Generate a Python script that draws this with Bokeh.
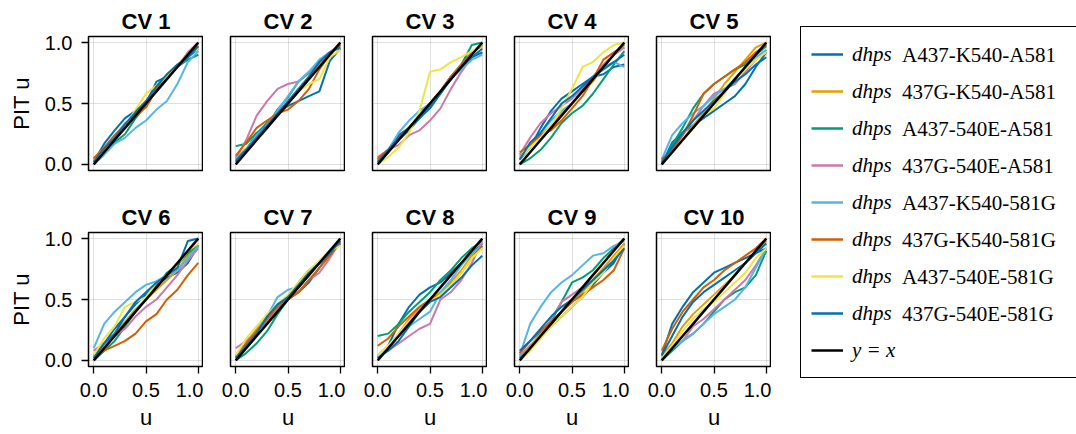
from bokeh.plotting import figure
from bokeh.models import Range1d, LinearAxis, Grid, FixedTicker, Legend, LegendItem
from bokeh.layouts import row, column
from bokeh.embed import file_html
from bokeh.resources import INLINE

# ---------------- data ----------------
u_grid = [0.0, 0.1, 0.2, 0.3, 0.4, 0.5, 0.6, 0.7, 0.8, 0.9, 1.0]

series_labels = [
    "A437-K540-A581", "437G-K540-A581", "A437-540E-A581", "437G-540E-A581",
    "A437-K540-581G", "437G-K540-581G", "A437-540E-581G", "437G-540E-581G",
]
series_colors = ["#0072B2", "#E69F00", "#009E73", "#CC79A7",
                 "#56B4E9", "#D55E00", "#F0E442", "#0072B2"]

panel_titles = ["CV 1", "CV 2", "CV 3", "CV 4", "CV 5",
                "CV 6", "CV 7", "CV 8", "CV 9", "CV 10"]

# PIT values per CV fold; one list per series (order of series_labels)
cv1 = [
    [0.02, 0.17, 0.28, 0.38, 0.44, 0.50, 0.68, 0.72, 0.80, 0.88, 0.95],
    [0.05, 0.12, 0.22, 0.32, 0.42, 0.47, 0.62, 0.72, 0.80, 0.90, 0.97],
    [0.03, 0.12, 0.18, 0.25, 0.38, 0.48, 0.63, 0.73, 0.80, 0.86, 0.90],
    [0.04, 0.12, 0.22, 0.34, 0.40, 0.52, 0.62, 0.70, 0.80, 0.92, 1.00],
    [0.00, 0.08, 0.17, 0.22, 0.30, 0.36, 0.45, 0.52, 0.66, 0.84, 0.93],
    [0.05, 0.14, 0.24, 0.33, 0.40, 0.47, 0.62, 0.72, 0.81, 0.90, 0.97],
    [0.03, 0.10, 0.22, 0.32, 0.45, 0.58, 0.65, 0.72, 0.80, 0.90, 0.95],
    [0.02, 0.13, 0.22, 0.33, 0.43, 0.52, 0.64, 0.74, 0.82, 0.88, 0.97],
]
cv2 = [
    [0.02, 0.12, 0.25, 0.34, 0.42, 0.48, 0.52, 0.56, 0.60, 0.85, 0.95],
    [0.05, 0.13, 0.22, 0.33, 0.42, 0.50, 0.60, 0.72, 0.82, 0.92, 0.98],
    [0.15, 0.17, 0.26, 0.32, 0.45, 0.55, 0.68, 0.75, 0.85, 0.92, 0.98],
    [0.05, 0.20, 0.40, 0.52, 0.62, 0.66, 0.68, 0.76, 0.84, 0.92, 0.97],
    [0.05, 0.12, 0.24, 0.32, 0.44, 0.56, 0.68, 0.76, 0.86, 0.92, 0.96],
    [0.07, 0.18, 0.30, 0.36, 0.42, 0.45, 0.52, 0.62, 0.78, 0.90, 0.98],
    [0.00, 0.10, 0.20, 0.32, 0.42, 0.50, 0.60, 0.66, 0.70, 0.88, 0.94],
    [0.03, 0.12, 0.22, 0.32, 0.42, 0.52, 0.62, 0.72, 0.84, 0.92, 0.96],
]
cv3 = [
    [0.02, 0.10, 0.24, 0.30, 0.38, 0.48, 0.60, 0.72, 0.80, 0.88, 0.95],
    [0.03, 0.10, 0.20, 0.30, 0.40, 0.50, 0.60, 0.70, 0.82, 0.92, 0.97],
    [0.04, 0.12, 0.20, 0.28, 0.38, 0.50, 0.60, 0.72, 0.82, 0.98, 1.00],
    [0.06, 0.12, 0.16, 0.24, 0.28, 0.36, 0.46, 0.62, 0.76, 0.88, 0.92],
    [0.04, 0.12, 0.26, 0.36, 0.44, 0.50, 0.58, 0.70, 0.78, 0.86, 0.90],
    [0.05, 0.12, 0.20, 0.30, 0.40, 0.50, 0.60, 0.72, 0.82, 0.92, 0.98],
    [0.00, 0.06, 0.14, 0.26, 0.44, 0.76, 0.78, 0.84, 0.88, 0.93, 0.98],
    [0.02, 0.12, 0.22, 0.30, 0.38, 0.46, 0.58, 0.70, 0.80, 0.88, 0.92],
]
cv4 = [
    [0.04, 0.14, 0.30, 0.44, 0.54, 0.60, 0.66, 0.72, 0.74, 0.80, 0.82],
    [0.06, 0.14, 0.24, 0.32, 0.42, 0.50, 0.60, 0.68, 0.80, 0.90, 0.96],
    [0.00, 0.05, 0.12, 0.22, 0.34, 0.42, 0.48, 0.58, 0.70, 0.82, 0.93],
    [0.08, 0.22, 0.34, 0.42, 0.48, 0.54, 0.62, 0.72, 0.82, 0.90, 0.96],
    [0.04, 0.14, 0.26, 0.36, 0.44, 0.50, 0.60, 0.70, 0.80, 0.84, 0.80],
    [0.10, 0.16, 0.24, 0.28, 0.36, 0.46, 0.56, 0.70, 0.86, 0.92, 0.98],
    [0.05, 0.14, 0.22, 0.32, 0.46, 0.62, 0.80, 0.84, 0.92, 0.98, 1.00],
    [0.04, 0.18, 0.26, 0.38, 0.50, 0.56, 0.64, 0.72, 0.78, 0.84, 0.90],
]
cv5 = [
    [0.00, 0.18, 0.26, 0.32, 0.38, 0.44, 0.50, 0.56, 0.66, 0.80, 0.92],
    [0.00, 0.10, 0.20, 0.32, 0.42, 0.54, 0.66, 0.76, 0.86, 0.96, 1.00],
    [0.00, 0.16, 0.30, 0.46, 0.58, 0.66, 0.72, 0.78, 0.82, 0.90, 0.97],
    [0.02, 0.12, 0.24, 0.36, 0.48, 0.58, 0.62, 0.66, 0.76, 0.86, 0.94],
    [0.04, 0.24, 0.34, 0.42, 0.48, 0.56, 0.62, 0.70, 0.80, 0.88, 0.94],
    [0.04, 0.12, 0.24, 0.40, 0.58, 0.66, 0.72, 0.78, 0.84, 0.92, 0.98],
    [0.02, 0.10, 0.20, 0.30, 0.40, 0.46, 0.58, 0.70, 0.78, 0.86, 0.92],
    [0.02, 0.14, 0.26, 0.36, 0.44, 0.52, 0.60, 0.68, 0.74, 0.82, 0.88],
]
cv6 = [
    [0.04, 0.14, 0.26, 0.36, 0.46, 0.54, 0.62, 0.68, 0.72, 0.80, 0.94],
    [0.02, 0.12, 0.22, 0.32, 0.42, 0.50, 0.58, 0.66, 0.74, 0.86, 0.94],
    [0.00, 0.08, 0.16, 0.28, 0.40, 0.50, 0.60, 0.72, 0.78, 0.88, 0.95],
    [0.08, 0.14, 0.20, 0.26, 0.36, 0.44, 0.50, 0.60, 0.70, 0.82, 0.92],
    [0.10, 0.30, 0.40, 0.48, 0.56, 0.62, 0.65, 0.70, 0.74, 0.84, 0.94],
    [0.04, 0.08, 0.12, 0.16, 0.22, 0.32, 0.38, 0.50, 0.58, 0.70, 0.80],
    [0.04, 0.18, 0.28, 0.44, 0.48, 0.52, 0.64, 0.70, 0.78, 0.90, 0.96],
    [0.02, 0.14, 0.22, 0.36, 0.48, 0.56, 0.64, 0.70, 0.76, 0.98, 1.00],
]
cv7 = [
    [0.02, 0.14, 0.24, 0.36, 0.46, 0.50, 0.56, 0.64, 0.76, 0.88, 0.98],
    [0.04, 0.14, 0.26, 0.36, 0.46, 0.52, 0.60, 0.70, 0.80, 0.88, 0.96],
    [0.00, 0.06, 0.14, 0.24, 0.38, 0.50, 0.64, 0.74, 0.80, 0.88, 0.96],
    [0.10, 0.16, 0.24, 0.32, 0.42, 0.50, 0.56, 0.66, 0.72, 0.84, 0.98],
    [0.04, 0.14, 0.24, 0.36, 0.52, 0.58, 0.60, 0.70, 0.80, 0.90, 0.98],
    [0.04, 0.14, 0.24, 0.34, 0.44, 0.50, 0.56, 0.66, 0.76, 0.86, 0.96],
    [0.04, 0.18, 0.28, 0.38, 0.46, 0.54, 0.64, 0.74, 0.82, 0.90, 0.94],
    [0.02, 0.12, 0.22, 0.36, 0.46, 0.52, 0.62, 0.72, 0.80, 0.88, 0.98],
]
cv8 = [
    [0.02, 0.12, 0.30, 0.44, 0.54, 0.60, 0.64, 0.72, 0.80, 0.88, 0.96],
    [0.04, 0.12, 0.22, 0.34, 0.42, 0.50, 0.56, 0.64, 0.74, 0.86, 0.94],
    [0.20, 0.22, 0.30, 0.40, 0.48, 0.56, 0.66, 0.74, 0.84, 0.92, 0.98],
    [0.04, 0.08, 0.14, 0.20, 0.26, 0.30, 0.50, 0.56, 0.66, 0.80, 0.98],
    [0.02, 0.10, 0.20, 0.28, 0.34, 0.40, 0.56, 0.66, 0.78, 0.88, 0.94],
    [0.12, 0.18, 0.28, 0.36, 0.44, 0.50, 0.54, 0.62, 0.72, 0.84, 0.94],
    [0.04, 0.12, 0.22, 0.32, 0.40, 0.48, 0.54, 0.62, 0.72, 0.84, 0.92],
    [0.02, 0.08, 0.16, 0.28, 0.40, 0.48, 0.52, 0.60, 0.68, 0.78, 0.86],
]
cv9 = [
    [0.02, 0.12, 0.20, 0.28, 0.36, 0.44, 0.52, 0.62, 0.72, 0.80, 0.96],
    [0.04, 0.12, 0.22, 0.30, 0.40, 0.48, 0.56, 0.66, 0.76, 0.86, 0.96],
    [0.06, 0.16, 0.24, 0.32, 0.48, 0.64, 0.68, 0.74, 0.84, 0.92, 1.00],
    [0.04, 0.12, 0.20, 0.34, 0.48, 0.54, 0.60, 0.66, 0.74, 0.84, 0.94],
    [0.04, 0.30, 0.44, 0.56, 0.64, 0.70, 0.78, 0.86, 0.88, 0.94, 0.98],
    [0.06, 0.16, 0.24, 0.32, 0.40, 0.48, 0.54, 0.60, 0.66, 0.74, 0.92],
    [0.00, 0.08, 0.18, 0.28, 0.36, 0.44, 0.52, 0.64, 0.72, 0.84, 0.94],
    [0.08, 0.16, 0.26, 0.36, 0.44, 0.50, 0.58, 0.66, 0.74, 0.82, 0.92],
]
cv10 = [
    [0.04, 0.30, 0.44, 0.56, 0.64, 0.72, 0.76, 0.80, 0.84, 0.88, 0.92],
    [0.04, 0.14, 0.28, 0.38, 0.46, 0.54, 0.62, 0.70, 0.80, 0.88, 0.98],
    [0.00, 0.08, 0.16, 0.22, 0.30, 0.40, 0.50, 0.56, 0.60, 0.70, 0.90],
    [0.02, 0.10, 0.16, 0.28, 0.34, 0.42, 0.50, 0.58, 0.66, 0.78, 0.92],
    [0.02, 0.10, 0.16, 0.22, 0.30, 0.38, 0.44, 0.50, 0.60, 0.76, 0.92],
    [0.08, 0.26, 0.40, 0.50, 0.60, 0.66, 0.74, 0.80, 0.86, 0.92, 1.00],
    [0.02, 0.12, 0.24, 0.34, 0.42, 0.48, 0.56, 0.64, 0.72, 0.84, 0.92],
    [0.04, 0.20, 0.36, 0.48, 0.56, 0.62, 0.68, 0.74, 0.80, 0.88, 0.96],
]
all_cv = [cv1, cv2, cv3, cv4, cv5, cv6, cv7, cv8, cv9, cv10]

axis_ticks = [0.0, 0.5, 1.0]
tick_labels = {0.0: "0.0", 0.5: "0.5", 1.0: "1.0"}

# ---------------- styling ----------------
SANS = "Liberation Sans"
SERIF = "Liberation Serif"
FRAME_W, FRAME_H = 115, 134
GAP = 27
ROW_TOP = [36, 32]
ROW_BOTTOM = [30, 68]
NAN = float("nan")


def make_panel(i):
    r, c = divmod(i, 5)
    left = 88 if c == 0 else GAP
    top = ROW_TOP[r]
    bottom = ROW_BOTTOM[r]
    p = figure(width=left + FRAME_W, height=top + FRAME_H + bottom,
               x_range=Range1d(-0.05, 1.05), y_range=Range1d(-0.05, 1.05),
               x_axis_location=None, y_axis_location=None,
               toolbar_location=None, output_backend="svg",
               min_border_left=left, min_border_right=0,
               min_border_top=top, min_border_bottom=bottom,
               title=panel_titles[i])
    p.center = []
    p.background_fill_color = "white"
    p.border_fill_color = "white"
    p.outline_line_color = "black"
    p.outline_line_alpha = 1.0
    p.outline_line_width = 1.5
    p.title.align = "center"
    p.title.text_font = SANS
    p.title.text_font_size = "22px"
    p.title.text_font_style = "bold"
    p.title.text_color = "black"
    p.title.standoff = 5

    for dim in (0, 1):
        p.add_layout(Grid(dimension=dim, ticker=FixedTicker(ticks=axis_ticks),
                          grid_line_color="black", grid_line_alpha=0.12,
                          grid_line_width=1), "center")

    def style_axis(ax, label):
        ax.ticker = FixedTicker(ticks=axis_ticks)
        ax.major_label_overrides = tick_labels
        ax.axis_line_color = None
        ax.major_tick_out = 7
        ax.major_tick_in = 0
        ax.major_tick_line_color = "black"
        ax.major_tick_line_width = 1.3
        ax.minor_tick_line_color = None
        ax.major_label_text_font = SANS
        ax.major_label_text_font_size = "20px"
        ax.major_label_text_color = "black"
        ax.axis_label = label
        ax.axis_label_text_font = SANS
        ax.axis_label_text_font_size = "22px"
        ax.axis_label_text_font_style = "normal"
        ax.axis_label_text_color = "black"

    if c == 0:
        ya = LinearAxis()
        style_axis(ya, "PIT u")
        ya.major_label_standoff = 9
        ya.axis_label_standoff = 8
        p.add_layout(ya, "left")
    if r == 1:
        xa = LinearAxis()
        style_axis(xa, "u")
        xa.major_label_standoff = 9
        xa.axis_label_standoff = 5
        p.add_layout(xa, "below")

    for ys, col in zip(all_cv[i], series_colors):
        p.line(u_grid, ys, line_color=col, line_width=2)
    p.line(u_grid, u_grid, line_color="black", line_width=2.5)
    return p


panels = [make_panel(i) for i in range(10)]

# ---------------- legend figure ----------------
TOTAL_H = sum(ROW_TOP) + 2 * FRAME_H + sum(ROW_BOTTOM)
LEG_W = 1076 - (88 + FRAME_W) - 4 * (GAP + FRAME_W)
lf = figure(width=LEG_W, height=TOTAL_H, x_range=Range1d(0, 1), y_range=Range1d(0, 1),
            x_axis_location=None, y_axis_location=None, toolbar_location=None,
            output_backend="svg", min_border=0)
lf.center = []
lf.outline_line_color = None

items_a, items_b = [], []
for lab, col in zip(series_labels, series_colors):
    ra = lf.line(x=[NAN], y=[NAN], line_color=col, line_width=2.5)
    rb = lf.line(x=[NAN], y=[NAN], line_alpha=0)
    items_a.append(LegendItem(label="dhps", renderers=[ra]))
    items_b.append(LegendItem(label=lab, renderers=[rb]))
rk = lf.line(x=[NAN], y=[NAN], line_color="black", line_width=2.5)
items_a.append(LegendItem(label="y = x", renderers=[rk]))

PAD, GH, SP = 10, 34, 3
LEG_X = 29
leg_a_h = 2 * PAD + 9 * GH + 8 * SP
leg_b_h = 2 * PAD + 8 * GH + 7 * SP
box_top = 28
leg_a = Legend(items=items_a, location=(LEG_X, TOTAL_H - box_top - leg_a_h),
               padding=PAD, spacing=SP, glyph_width=32, glyph_height=GH,
               label_height=GH, label_standoff=9,
               label_width=LEG_W - LEG_X - PAD - 32 - 9 - PAD + 3,
               label_text_font=SERIF, label_text_font_size="21px",
               label_text_font_style="italic", label_text_color="black",
               border_line_color="black", border_line_alpha=1.0, border_line_width=1.5,
               background_fill_color="white", background_fill_alpha=1,
               margin=0)
leg_b = Legend(items=items_b, location=(LEG_X, TOTAL_H - box_top - leg_b_h),
               padding=PAD, spacing=SP, glyph_width=83, glyph_height=GH,
               label_height=GH, label_standoff=9,
               label_text_font=SERIF, label_text_font_size="21px",
               label_text_color="black",
               border_line_alpha=0, background_fill_alpha=0, margin=0)
lf.add_layout(leg_a, "center")
lf.add_layout(leg_b, "center")

layout = row(column(row(*panels[:5]), row(*panels[5:])), lf)

open("out.html", "w").write(file_html(layout, INLINE))
